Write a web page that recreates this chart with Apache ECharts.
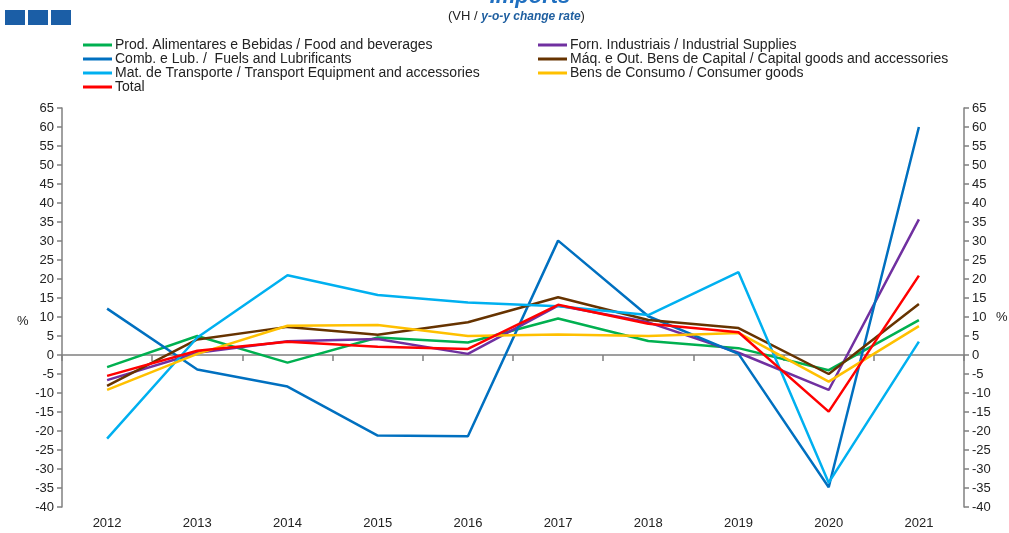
<!DOCTYPE html>
<html>
<head>
<meta charset="utf-8">
<script src="https://cdn.jsdelivr.net/npm/echarts@6/dist/echarts.min.js"></script>
<style>
  html, body { margin: 0; padding: 0; background: #fff; }
  #chart { width: 1009px; height: 533px; }
</style>
</head>
<body>
<div id="chart"></div>
<script>
// years on the category axis
var years = ['2012', '2013', '2014', '2015', '2016', '2017', '2018', '2019', '2020', '2021']

// y-o-y change rate, %
var food = [-3.2, 5.0, -2.0, 4.6, 3.3, 9.6, 3.7, 1.8, -4.0, 9.2]
var industrial = [-6.6, 0.6, 3.6, 4.2, 0.3, 13.0, 8.6, 0.6, -9.2, 35.7]
var fuels = [12.2, -3.8, -8.3, -21.2, -21.4, 30.1, 10.2, 0.3, -34.8, 60.0]
var capital = [-8.1, 4.1, 7.4, 5.3, 8.6, 15.2, 9.2, 7.1, -5.0, 13.4]
var transport = [-22.0, 4.6, 21.0, 15.8, 13.8, 12.8, 10.5, 21.8, -33.6, 3.5]
var consumer = [-9.2, 0.3, 7.7, 7.9, 5.0, 5.4, 5.0, 5.8, -7.0, 7.6]
var total = [-5.5, 1.1, 3.5, 2.2, 1.6, 13.2, 8.2, 6.0, -14.9, 20.9]

var names = [
  'Prod. Alimentares e Bebidas / Food and beverages',
  'Forn. Industriais / Industrial Supplies',
  'Comb. e Lub. /  Fuels and Lubrificants',
  'Máq. e Out. Bens de Capital / Capital goods and accessories',
  'Mat. de Transporte / Transport Equipment and accessories',
  'Bens de Consumo / Consumer goods',
  'Total'
]
var colors = ['#00B050', '#7030A0', '#0070C0', '#663300', '#00B0F0', '#FFC000', '#FF0000']
var values = [food, industrial, fuels, capital, transport, consumer, total]

var font = 'Liberation Sans, Arial, sans-serif'
var axisGray = '#808080'

var chart = echarts.init(document.getElementById('chart'))

function yAxis(pos) {
  return {
    type: 'value',
    position: pos,
    min: -40,
    max: 65,
    interval: 5,
    splitLine: { show: false },
    axisLine: { show: true, lineStyle: { color: axisGray, width: 1.5 } },
    axisTick: { show: true, length: 5, lineStyle: { color: axisGray, width: 1.5 } },
    axisLabel: { color: '#222', fontSize: 13, fontFamily: font, margin: 8 }
  }
}

var legendCommon = {
  orient: 'vertical',
  top: 38,
  padding: 0,
  itemGap: 0,
  icon: 'rect',
  itemWidth: 29,
  itemHeight: 3,
  textStyle: { fontSize: 14, lineHeight: 14, fontFamily: font, color: '#222', padding: [0, 0, 0, -2] },
  selectedMode: false
}

chart.setOption({
  animation: false,
  color: colors,
  title: [
    {
      text: 'Imports',
      left: 525,
      textAlign: 'center',
      top: -19,
      textStyle: { color: '#1F6FC0', fontSize: 22, fontStyle: 'italic', fontWeight: 'bold', fontFamily: font }
    }
  ],
  graphic: [
    { type: 'rect', shape: { x: 5, y: 10, width: 20, height: 15 }, style: { fill: '#1B5EA6' } },
    { type: 'rect', shape: { x: 28, y: 10, width: 20, height: 15 }, style: { fill: '#1B5EA6' } },
    { type: 'rect', shape: { x: 51, y: 10, width: 20, height: 15 }, style: { fill: '#1B5EA6' } },
    {
      type: 'text', left: 448, top: 10,
      style: {
        text: '{a|(VH / }{b|y-o-y change rate}{a|)}',
        rich: {
          a: { fontSize: 13, fontFamily: font, fill: '#222' },
          b: { fontSize: 12, fontFamily: font, fill: '#1F5FA0', fontStyle: 'italic', fontWeight: 'bold' }
        }
      }
    },
    { type: 'text', left: 17, top: 315, style: { text: '%', fontSize: 13, fontFamily: font, fill: '#222' } },
    { type: 'text', left: 996, top: 311, style: { text: '%', fontSize: 13, fontFamily: font, fill: '#222' } }
  ],
  legend: [
    Object.assign({}, legendCommon, { left: 83, data: [names[0], names[2], names[4], names[6]] }),
    Object.assign({}, legendCommon, { left: 538, data: [names[1], names[3], names[5]] })
  ],
  grid: { left: 62, right: 45, top: 108, bottom: 26 },
  xAxis: [
    {
      // labels along the bottom edge
      type: 'category',
      data: years,
      position: 'bottom',
      axisLine: { show: false, onZero: false },
      axisTick: { show: false },
      axisLabel: { color: '#222', fontSize: 13, fontFamily: font, margin: 10 }
    },
    {
      // line and ticks on zero
      type: 'category',
      data: years,
      position: 'bottom',
      axisLine: { show: true, onZero: true, lineStyle: { color: axisGray, width: 1.5 } },
      axisTick: { show: true, length: 6, inside: false, lineStyle: { color: axisGray, width: 1.5 } },
      axisLabel: { show: false }
    }
  ],
  yAxis: [yAxis('left'), yAxis('right')],
  series: values.map(function (v, i) {
    return {
      name: names[i],
      type: 'line',
      data: v,
      symbol: 'none',
      z: i === 6 ? 5 : 2,
      lineStyle: { width: 2.5, color: colors[i] },
      itemStyle: { color: colors[i] }
    }
  })
})
</script>
</body>
</html>
